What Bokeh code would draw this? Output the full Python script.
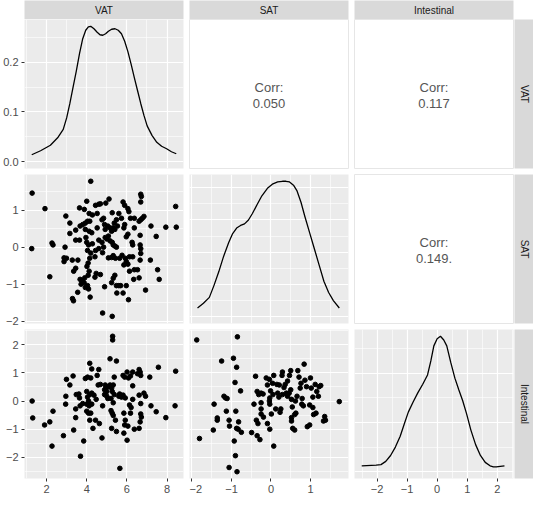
import math
from bokeh.plotting import figure
from bokeh.layouts import gridplot
from bokeh.models import Range1d, FixedTicker, Label, PrintfTickFormatter
from bokeh.embed import file_html
from bokeh.resources import INLINE

# ---------------- data ----------------
variables = ["VAT", "SAT", "Intestinal"]
corr_labels = ["0.050", "0.117", "0.149."]   # (VAT,SAT), (VAT,Intestinal), (SAT,Intestinal)

# density curves (diagonal)
vat_dens_x = [1.26, 1.7, 2.19, 2.55, 2.83, 3.0, 3.16, 3.32, 3.48, 3.64, 3.80, 3.95, 4.08, 4.20, 4.36,
              4.52, 4.66, 4.80, 4.94, 5.08, 5.24, 5.41, 5.57, 5.73, 5.89, 6.05, 6.21, 6.37, 6.53, 6.69,
              6.85, 7.01, 7.25, 7.49, 7.73, 7.98, 8.22, 8.46]
vat_dens_y = [0.014, 0.022, 0.033, 0.048, 0.065, 0.088, 0.117, 0.150, 0.182, 0.217, 0.247, 0.264, 0.271,
              0.272, 0.267, 0.260, 0.255, 0.254, 0.257, 0.262, 0.266, 0.267, 0.264, 0.257, 0.242, 0.221,
              0.196, 0.169, 0.143, 0.117, 0.093, 0.072, 0.053, 0.039, 0.031, 0.026, 0.020, 0.016]

sat_dens_x = [-1.86, -1.71, -1.56, -1.44, -1.32, -1.20, -1.07, -0.97, -0.87, -0.77, -0.67, -0.57, -0.47,
              -0.35, -0.23, -0.09, 0.05, 0.17, 0.29, 0.38, 0.47, 0.57, 0.66, 0.76, 0.86, 0.98, 1.10,
              1.22, 1.34, 1.46, 1.58, 1.73]
sat_dens_y = [0.027, 0.042, 0.060, 0.098, 0.140, 0.187, 0.230, 0.258, 0.275, 0.283, 0.288, 0.300, 0.320,
              0.348, 0.375, 0.398, 0.412, 0.418, 0.420, 0.420, 0.418, 0.408, 0.390, 0.355, 0.310, 0.260,
              0.210, 0.160, 0.110, 0.075, 0.050, 0.027]

int_dens_x = [-2.51, -2.35, -2.19, -2.03, -1.87, -1.71, -1.55, -1.39, -1.23, -1.10, -0.96, -0.80, -0.64,
              -0.48, -0.32, -0.21, -0.11, 0.0, 0.11, 0.22, 0.32, 0.45, 0.59, 0.72, 0.85, 0.98, 1.12,
              1.28, 1.44, 1.60, 1.76, 1.87, 1.97, 2.10, 2.24]
int_dens_y = [0.024, 0.025, 0.026, 0.027, 0.029, 0.042, 0.066, 0.100, 0.144, 0.192, 0.242, 0.283, 0.321,
              0.355, 0.393, 0.450, 0.511, 0.540, 0.550, 0.535, 0.511, 0.445, 0.380, 0.333, 0.288, 0.235,
              0.170, 0.110, 0.066, 0.038, 0.024, 0.020, 0.020, 0.022, 0.024]

# scatter panels: (x, y) pairs
vat_sat_points = [
    (1.28, 1.46), (1.26, -0.04), (1.92, 1.04), (2.16, -0.80), (2.27, 0.11), (2.32, 0.06), (2.92, 0.0),
    (2.96, 0.84), (3.16, 0.65), (3.16, 0.37), (2.87, -0.29), (2.87, -0.39), (2.99, -0.30), (3.28, -0.35),
    (3.56, -0.35), (3.35, -0.65), (3.45, 0.46), (3.45, 0.19), (3.64, 0.19), (3.64, 1.06), (3.88, 1.02),
    (4.0, 1.24), (4.2, 1.78), (3.67, 0.57), (3.8, 0.61), (3.93, 0.65), (4.04, 0.70), (4.15, 0.70),
    (4.12, 0.91), (4.28, 0.87), (4.52, 0.91), (4.44, 1.13), (4.6, 1.16), (4.68, 1.17), (4.95, 1.19),
    (5.11, 1.30), (5.27, 0.93), (3.96, 0.26), (4.0, 0.13), (4.09, 0.06), (4.04, -0.09), (3.93, 0.48),
    (4.12, 0.43), (4.25, 0.39), (4.28, 0.09), (4.2, -0.16), (4.15, -0.30), (4.41, -0.26), (4.44, -0.09),
    (4.6, -0.04), (4.52, 0.52), (4.76, 0.74), (4.84, 0.78), (4.89, 0.61), (4.92, 0.48), (5.05, 0.57),
    (5.16, 0.52), (5.24, 0.43), (5.32, 0.52), (5.4, 0.48), (5.53, 0.57), (5.37, 0.65), (5.48, 0.74),
    (5.6, 0.91), (5.73, 0.78), (5.81, 1.22), (5.89, 1.13), (6.05, 1.04), (6.1, 0.96), (6.18, 0.78),
    (5.89, 0.61), (5.85, 0.52), (4.92, 0.26), (5.0, 0.22), (5.08, 0.30), (5.16, 0.17), (5.27, 0.13),
    (5.32, 0.06), (5.4, 0.03), (5.48, 0.0), (4.76, 0.13), (4.84, 0.0), (4.6, 0.19), (4.79, -0.15),
    (5.08, -0.29), (5.24, -0.28), (5.32, -0.23), (5.43, -0.30), (5.64, -0.30), (5.76, -0.22),
    (5.92, -0.30), (5.97, -0.39), (5.85, -0.48), (6.05, -0.46), (6.13, -0.26), (6.29, -0.26),
    (6.26, 0.13), (6.29, 0.06), (5.97, 0.28), (6.05, 0.35), (6.37, 0.52), (6.37, 0.78), (6.61, 0.70),
    (6.69, 0.74), (6.77, 0.78), (6.85, 0.83), (6.69, 1.43), (6.72, 1.37), (6.69, 1.22), (6.66, 0.32),
    (6.66, 0.06), (6.69, -0.04), (6.69, -0.17), (6.66, -0.35), (6.53, -0.61), (6.37, -0.61),
    (6.61, -0.83), (6.34, -0.87), (6.93, -1.16), (7.2, 0.57), (7.17, -0.35), (7.46, 0.29),
    (7.53, -0.61), (7.61, -0.87), (7.94, 0.54), (8.43, 1.10), (8.46, 0.54), (3.45, -0.57),
    (3.29, -1.39), (3.34, -1.45), (3.55, -1.22), (3.72, -1.0), (3.67, -0.87), (3.77, -0.91),
    (3.87, -0.96), (3.9, -0.83), (3.93, -1.09), (4.04, -1.04), (4.07, -0.76), (4.12, -0.65),
    (4.01, -0.52), (4.07, -0.43), (4.09, -1.13), (4.17, -1.35), (4.41, -0.81), (4.47, -0.71),
    (4.68, -0.74), (4.89, -1.07), (4.79, -1.78), (5.27, -1.87), (5.24, -0.96), (5.32, -0.84),
    (5.4, -0.76), (5.48, -1.04), (5.6, -1.04), (5.69, -1.04), (5.5, -1.24), (5.81, -1.24),
    (5.97, -1.04), (6.08, -1.42), (6.13, -0.65),
]

vat_int_points = [
    (1.28, 0.0), (1.31, -0.60), (1.9, -0.85), (2.16, -0.74), (2.32, -0.36), (2.27, -1.60), (2.84, -1.23),
    (2.95, -0.11), (2.96, 0.17), (2.99, 0.77), (3.16, 0.57), (3.32, 0.89), (3.35, -1.03), (3.45, -0.59),
    (3.45, -0.28), (3.48, 0.23), (3.61, 0.25), (3.64, 0.11), (3.67, -0.17), (3.8, -0.09), (3.85, -1.42),
    (3.69, -1.96), (3.93, 0.80), (4.04, 0.85), (4.2, 0.82), (4.15, 1.34), (4.25, 1.14), (4.0, 0.34),
    (4.04, 0.14), (4.09, 0.0), (4.0, -0.11), (4.12, -0.17), (4.25, -0.11), (4.15, 0.23), (4.25, 0.28),
    (4.36, 0.21), (4.0, -0.36), (4.09, -0.43), (4.2, -0.43), (4.15, -0.68), (4.31, -0.97), (4.44, -0.68),
    (4.47, 0.06), (4.52, 0.91), (4.6, 1.12), (4.57, 0.57), (4.68, 0.59), (4.63, -0.80), (4.76, -1.31),
    (4.79, -0.17), (4.92, 0.57), (4.95, 0.46), (4.89, 0.23), (5.0, 0.17), (5.08, 0.51), (5.16, 0.57),
    (5.24, 0.46), (5.32, 0.57), (5.27, 0.34), (5.37, 0.23), (5.0, 0.34), (4.89, 0.40), (5.05, 0.09),
    (5.21, 0.09), (5.29, 2.30), (5.29, 2.17), (5.16, 1.50), (5.48, 1.42), (5.37, 0.85), (5.32, -0.06),
    (5.21, -0.34), (5.27, -0.43), (5.32, -0.51), (5.43, -0.68), (5.24, -0.97), (5.48, -1.08),
    (5.6, 0.17), (5.64, 0.25), (5.81, 0.21), (5.92, 0.11), (5.73, 0.14), (5.65, -2.39), (5.81, 0.91),
    (5.89, 0.85), (6.01, 1.03), (6.08, 0.82), (6.18, 0.89), (5.85, -0.43), (5.92, -0.68), (5.89, -0.85),
    (5.85, -1.14), (6.01, -1.39), (6.05, -0.89), (6.13, -0.14), (6.21, -0.23), (6.18, -0.43),
    (6.29, 0.06), (6.29, 0.54), (6.37, -1.0), (6.29, 1.03), (6.53, 0.97), (6.61, 1.12), (6.66, 1.03),
    (6.69, 0.91), (6.61, 0.21), (6.69, -0.09), (6.69, -0.46), (6.72, -0.57), (6.66, -0.74),
    (6.61, -0.97), (6.85, 0.28), (6.93, 0.17), (7.14, 0.85), (7.2, -0.17), (7.46, -0.38), (7.57, 1.20),
    (7.94, -0.59), (8.43, 1.06), (8.4, -0.17),
]

sat_int_points = [
    (-1.88, 2.17), (-0.85, 2.28), (-1.25, 1.42), (-0.95, 1.52), (-0.87, 1.20), (-0.91, 0.66),
    (-0.77, 0.36), (-1.19, 0.17), (-1.15, 0.11), (-1.11, 0.09), (-1.44, -0.11), (-1.13, -0.36),
    (-0.89, -0.36), (-1.36, -0.60), (-1.36, -0.68), (-1.06, -0.68), (-1.05, -0.89), (-0.82, -0.74),
    (-1.46, -1.03), (-0.87, -0.97), (-0.83, -1.0), (-0.75, -1.11), (-1.81, -1.33), (-0.93, -1.42),
    (-0.90, -1.94), (-1.06, -2.36), (-0.86, -2.51), (-0.49, -1.12), (-0.43, -0.11), (-0.39, 0.88),
    (-0.37, -0.68), (-0.33, -0.80), (-0.28, -1.37), (-0.35, -1.23), (-0.35, 0.34), (-0.31, 0.23),
    (-0.25, 0.28), (-0.2, 0.25), (-0.25, -0.06), (-0.25, -0.28), (-0.25, -0.46), (-0.19, -0.57),
    (-0.12, 0.82), (-0.04, 0.77), (-0.09, 0.57), (-0.09, -0.80), (-0.03, -1.0), (-0.03, -0.11),
    (-0.04, 0.0), (-0.03, 0.11), (-0.01, 0.36), (0.01, -0.46), (0.04, 0.63), (0.07, 0.91), (0.05, 0.23),
    (0.07, -1.60), (0.12, -0.28), (0.15, 0.59), (0.17, 0.28), (0.2, 0.14), (0.21, 0.57), (0.25, -0.28),
    (0.23, -0.40), (0.28, 0.91), (0.29, 1.03), (0.29, 0.23), (0.33, 0.48), (0.36, 0.59), (0.42, 0.71),
    (0.39, 0.28), (0.42, 0.17), (0.46, 0.28), (0.47, 0.91), (0.5, 1.08), (0.5, 0.40), (0.52, 0.06),
    (0.54, -0.21), (0.52, -0.59), (0.52, -0.71), (0.55, -0.97), (0.6, -1.03), (0.6, -0.48),
    (0.63, -0.43), (0.62, 0.0), (0.66, 0.17), (0.68, 1.08), (0.71, 0.85), (0.74, 0.46), (0.76, 0.63),
    (0.78, -0.11), (0.79, 0.09), (0.82, -0.17), (0.84, 1.31), (0.86, 0.74), (0.9, 0.51), (0.92, -0.91),
    (0.98, -0.85), (1.0, 0.82), (1.02, 0.46), (0.98, -0.14), (1.06, -0.23), (1.06, 0.14), (1.12, 0.59),
    (1.08, -0.48), (1.14, -0.43), (1.16, 0.34), (1.2, 0.17), (1.22, 0.51), (1.26, 0.55), (1.36, -0.55),
    (1.38, -0.68), (1.33, -0.71), (1.73, -0.02),
]

# tick positions (major, minor) per variable and per density scale
var_ticks = {
    "VAT": ([2, 4, 6, 8], [1, 3, 5, 7]),
    "SAT": ([-2, -1, 0, 1], [-1.5, -0.5, 0.5, 1.5]),
    "Intestinal": ([-2, -1, 0, 1, 2], [-2.5, -1.5, -0.5, 0.5, 1.5, 2.5]),
}
dens_ticks = {
    "VAT": ([0.0, 0.1, 0.2], [0.05, 0.15, 0.25]),
    "SAT": ([0.0, 0.1, 0.2, 0.3, 0.4], [0.05, 0.15, 0.25, 0.35]),
    "Intestinal": ([0.0, 0.2, 0.4], [0.1, 0.3, 0.5]),
}

# ---------------- derived ----------------
dens = {"VAT": (vat_dens_x, vat_dens_y), "SAT": (sat_dens_x, sat_dens_y),
        "Intestinal": (int_dens_x, int_dens_y)}
pairs = {(1, 0): vat_sat_points, (2, 0): vat_int_points, (2, 1): sat_int_points}
corr_map = {(0, 1): corr_labels[0], (0, 2): corr_labels[1], (1, 2): corr_labels[2]}

vals = {
    "VAT": vat_dens_x + [p[0] for p in vat_sat_points] + [p[0] for p in vat_int_points],
    "SAT": sat_dens_x + [p[1] for p in vat_sat_points] + [p[0] for p in sat_int_points],
    "Intestinal": int_dens_x + [p[1] for p in vat_int_points] + [p[1] for p in sat_int_points],
}


def expand(lo, hi, f=0.05):
    d = (hi - lo) * f
    return lo - d, hi + d


ranges = {v: expand(min(vals[v]), max(vals[v])) for v in variables}
dens_ranges = {v: expand(0.0, max(dens[v][1])) for v in variables}

# ---------------- style / layout ----------------
FW, FH = 159, 149
LEFT, GAP, BOT, STRIP = 24, 6, 18, 19
FONT = "Liberation Sans"
PANEL_BG = "#EBEBEB"


def style_axis(ax):
    ax.axis_line_color = None
    ax.major_tick_line_color = "#333333"
    ax.major_tick_out = 3
    ax.major_tick_in = 0
    ax.minor_tick_line_color = None
    ax.major_label_text_font = FONT
    ax.major_label_text_font_size = "11px"
    ax.major_label_text_color = "#4D4D4D"
    ax.major_label_standoff = 2


def set_ticks(p, grids, ticks, minor):
    tk = FixedTicker(ticks=ticks, minor_ticks=minor)
    for g in grids:
        g.axis.ticker = tk
        g.grid_line_color = "white"
        g.grid_line_width = 1.2
        g.minor_grid_line_color = "white"
        g.minor_grid_line_width = 0.6


def panel(i, j):
    vx = variables[j]
    vy = variables[i]
    xr = ranges[vx]
    yr = dens_ranges[vx] if i == j else ranges[vy]
    p = figure(frame_width=FW, frame_height=FH,
               x_range=Range1d(*xr), y_range=Range1d(*yr),
               x_axis_location="below" if i == 2 else None,
               y_axis_location="left" if j == 0 else None,
               output_backend="svg", toolbar_location=None,
               min_border_left=LEFT if j == 0 else 0,
               min_border_right=GAP if j < 2 else 1,
               min_border_top=0,
               min_border_bottom=BOT if i == 2 else GAP)
    p.border_fill_color = "white"
    if i < j:
        # upper triangle: correlation text
        p.background_fill_color = "white"
        p.outline_line_color = "#E6E6E6"
        p.xgrid.grid_line_color = None
        p.ygrid.grid_line_color = None
        p.xgrid.minor_grid_line_color = None
        p.ygrid.minor_grid_line_color = None
        cx = (xr[0] + xr[1]) / 2
        y0, y1 = yr
        h = y1 - y0
        p.add_layout(Label(x=cx, y=y0 + 0.545 * h, text="Corr:", text_align="center",
                           text_baseline="middle", text_font=FONT, text_font_size="13px",
                           text_color="#555555"))
        p.add_layout(Label(x=cx, y=y0 + 0.435 * h, text=corr_map[(i, j)], text_align="center",
                           text_baseline="middle", text_font=FONT, text_font_size="13px",
                           text_color="#555555"))
        return p
    p.background_fill_color = PANEL_BG
    p.outline_line_color = None
    set_ticks(p, p.xgrid, *var_ticks[vx])
    if i == j:
        set_ticks(p, p.ygrid, *dens_ticks[vx])
        x, y = dens[vx]
        p.line(x, y, line_color="black", line_width=1.3)
    else:
        set_ticks(p, p.ygrid, *var_ticks[vy])
        pts = pairs[(i, j)]
        p.scatter([q[0] for q in pts], [q[1] for q in pts], size=4.6,
                  fill_color="black", line_color="black")
    for ax in p.xaxis:
        style_axis(ax)
    for ax in p.yaxis:
        style_axis(ax)
        if i == 0:
            ax.formatter = PrintfTickFormatter(format="%.1f")
    return p


def strip(text, j=None, row=None):
    if row is None:
        # top strip above column j
        p = figure(frame_width=FW, frame_height=STRIP, x_range=Range1d(0, 1), y_range=Range1d(0, 1),
                   x_axis_type=None, y_axis_type=None, output_backend="svg", toolbar_location=None,
                   min_border_left=LEFT if j == 0 else 0, min_border_right=GAP if j < 2 else 1,
                   min_border_top=0, min_border_bottom=0)
        angle = 0
    else:
        p = figure(frame_width=STRIP, frame_height=FH, x_range=Range1d(0, 1), y_range=Range1d(0, 1),
                   x_axis_type=None, y_axis_type=None, output_backend="svg", toolbar_location=None,
                   min_border_left=0, min_border_right=0, min_border_top=0,
                   min_border_bottom=BOT if row == 2 else GAP)
        angle = -math.pi / 2
    p.background_fill_color = "#D9D9D9"
    p.border_fill_color = "white"
    p.outline_line_color = None
    p.add_layout(Label(x=0.5, y=0.5, text=text, angle=angle, text_align="center",
                       text_baseline="middle", text_font=FONT, text_font_size="10px",
                       text_color="#1A1A1A"))
    return p


rows = [[strip(variables[j], j=j) for j in range(3)] + [None]]
for i in range(3):
    rows.append([panel(i, j) for j in range(3)] + [strip(variables[i], row=i)])

grid = gridplot(rows, toolbar_location=None)

open("out.html", "w").write(file_html(grid, INLINE))
